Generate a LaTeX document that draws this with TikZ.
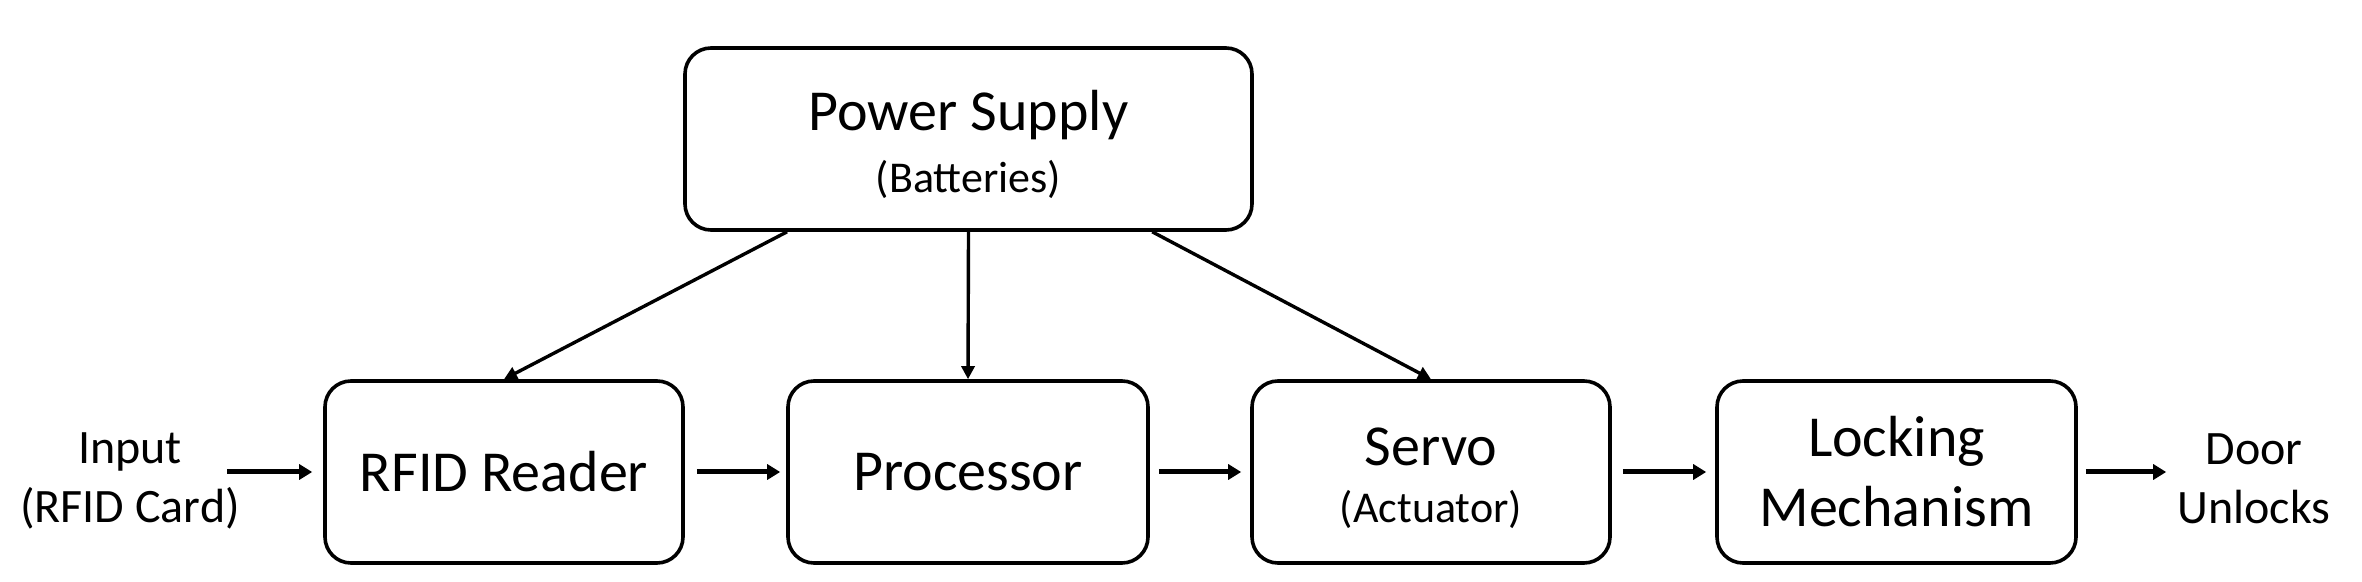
\documentclass[tikz,border=0pt]{standalone}
\usepackage{fontspec}
\setmainfont{Carlito}
\usetikzlibrary{arrows.meta,calc}
\begin{document}
\begin{tikzpicture}[x=0.5pt,y=-0.5pt,
  blk/.style={draw=black,line width=1.8pt,rounded corners=13pt,inner sep=0pt,
    minimum height=91pt,align=center,font=\fontsize{29}{35}\selectfont},
  sidetxt/.style={inner sep=0pt,align=center,font=\fontsize{24}{29.5}\selectfont},
  harr/.style={line width=2.5pt,-{Triangle[length=6.5pt,width=7.5pt]}},
  darr/.style={line width=1.7pt,-{Triangle[length=6.5pt,width=6.5pt]}}]
\useasboundingbox (0,0) rectangle (2362,582);
\node[blk,minimum width=283.5pt] (ps) at (968.5,139)
  {\rule{0pt}{26pt}Power Supply\\[-4pt]{\fontsize{22}{22}\selectfont (Batteries)}};
\node[blk,minimum width=179pt] (rfid) at (504,472) {RFID Reader};
\node[blk,minimum width=180pt] (proc) at (968,472) {Processor};
\node[blk,minimum width=179pt] (servo) at (1431,472)
  {\rule{0pt}{25.5pt}Servo\\[-6.5pt]{\fontsize{22}{22}\selectfont (Actuator)}};
\node[blk,minimum width=179.5pt] (lock) at (1896.5,472) {Locking\\Mechanism};
\node[sidetxt] (in) at (130,481) {Input\\(RFID Card)};
\node[sidetxt] (door) at (2254,479) {Door\\Unlocks};
\coordinate (instart) at (227,472);
\draw[darr] ($(ps.south west)!0.182!(ps.south east)$) -- (rfid.north);
\draw[darr] (ps.south) -- (proc.north);
\draw[darr] ($(ps.south west)!0.822!(ps.south east)$) -- (servo.north);
\draw[harr,shorten >=5.5pt] (instart) -- (rfid.west);
\draw[harr,shorten <=6pt,shorten >=3pt] (rfid.east) -- (proc.west);
\draw[harr,shorten <=4.5pt,shorten >=4.5pt] (proc.east) -- (servo.west);
\draw[harr,shorten <=5.5pt,shorten >=4.5pt] (servo.east) -- (lock.west);
\draw[harr,shorten <=4pt,shorten >=5.5pt] (lock.east) -- (lock.east -| door.west);
\end{tikzpicture}
\end{document}
